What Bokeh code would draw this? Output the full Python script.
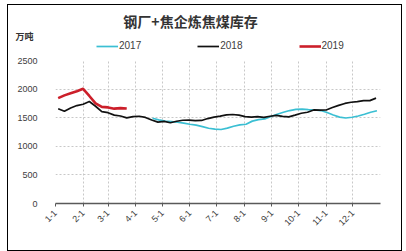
import math
import pandas as pd
from bokeh.plotting import figure
from bokeh.layouts import column
from bokeh.models import FixedTicker, Label, Legend, LegendItem, Range1d
from bokeh.embed import file_html
from bokeh.resources import INLINE

title_text = "钢厂+焦企炼焦煤库存"
unit_text = "万吨"
month_labels = ["1-1", "2-1", "3-1", "4-1", "5-1", "6-1", "7-1", "8-1", "9-1", "10-1", "11-1", "12-1"]
y_ticks = [0, 500, 1000, 1500, 2000, 2500]
series_names = ["2017", "2018", "2019"]

v2017 = [1490, 1462, 1440, 1430, 1420, 1405, 1385, 1370, 1345, 1315, 1300, 1294,
         1318, 1350, 1375, 1385, 1440, 1465, 1478, 1520, 1560, 1595, 1625, 1645,
         1650, 1640, 1635, 1625, 1590, 1548, 1510, 1495, 1508, 1530, 1560, 1595, 1622]
start2017 = "2017-04-20"

v2018 = [1656, 1612, 1670, 1712, 1735, 1784, 1700, 1605, 1588, 1545, 1530, 1496,
         1520, 1525, 1505, 1460, 1423, 1435, 1412, 1438, 1455, 1458, 1450, 1452,
         1485, 1511, 1528, 1548, 1556, 1545, 1520, 1511, 1518, 1505, 1525, 1540,
         1522, 1515, 1545, 1578, 1595, 1636, 1632, 1635, 1678, 1716, 1749, 1770,
         1782, 1800, 1798, 1842]
start2018 = "2018-01-04"

v2019 = [1842, 1890, 1928, 1964, 2005, 1880, 1750, 1690, 1680, 1658, 1668, 1660]
start2019 = "2019-01-04"

colors = ["#3BBFD3", "#111111", "#CC1F2A"]
widths = [1.7, 1.7, 2.6]


def day_offsets(start, n):
    d = pd.date_range(start, periods=n, freq="7D")
    return list(d.dayofyear - 1)


x2017 = day_offsets(start2017, len(v2017))
x2018 = day_offsets(start2018, len(v2018))
x2019 = day_offsets(start2019, len(v2019))
month_days = list(pd.date_range("2018-01-01", periods=12, freq="MS").dayofyear - 1)

# ---- header figure (title, unit, legend) ----
top = figure(width=393, height=50, output_backend="svg", toolbar_location=None,
             x_range=Range1d(0, 393), y_range=Range1d(0, 50),
             min_border=0, min_border_left=0, min_border_right=0,
             min_border_top=0, min_border_bottom=0, frame_align=False)
top.axis.visible = False
top.grid.visible = False
top.outline_line_color = None
top.background_fill_color = "white"
top.border_fill_color = "white"

# legend handles: invisible lines outside the visible range
handles = [top.line([-10, -10], [-10, -10], line_color=c, line_width=w) for c, w in zip(colors, widths)]
legend = Legend(items=[LegendItem(label=n, renderers=[h]) for n, h in zip(series_names, handles)],
                orientation="horizontal", location=(88, 4), padding=0, margin=0,
                spacing=56, glyph_width=22, glyph_height=10, label_height=10,
                label_standoff=1, label_text_font="Liberation Sans",
                label_text_font_size="10px", label_text_color="#404040",
                border_line_alpha=0, background_fill_alpha=0)
top.add_layout(legend, "center")
top.add_layout(Label(x=182, y=35, x_units="screen", y_units="screen", text=title_text,
                     text_align="center", text_baseline="middle", text_font="Noto Sans CJK SC",
                     text_font_style="bold", text_font_size="14px", text_color="#333333"))
top.add_layout(Label(x=7, y=19, x_units="screen", y_units="screen", text=unit_text,
                     text_align="left", text_baseline="middle", text_font="Noto Sans CJK SC",
                     text_font_style="bold", text_font_size="9px", text_color="#333333"))

# ---- main chart ----
p = figure(width=393, height=195, output_backend="svg", toolbar_location=None,
           x_range=Range1d(0, 365), y_range=Range1d(0, 2500), frame_align=False,
           min_border_left=47, min_border_right=21, min_border_top=5, min_border_bottom=47)
p.outline_line_color = None
p.background_fill_color = "white"
p.border_fill_color = "white"

p.line(x2017, v2017, line_color=colors[0], line_width=widths[0])
p.line(x2018, v2018, line_color=colors[1], line_width=widths[1])
p.line(x2019, v2019, line_color=colors[2], line_width=widths[2])

p.xaxis.ticker = FixedTicker(ticks=month_days)
p.xaxis.major_label_overrides = {int(d): lab for d, lab in zip(month_days, month_labels)}
p.xaxis.major_label_orientation = math.pi / 4
p.xaxis.axis_line_color = "#595959"
p.xaxis.axis_line_width = 1.5
p.xaxis.major_tick_line_color = "#595959"
p.xaxis.major_tick_in = 0
p.xaxis.major_tick_out = 3
p.xaxis.minor_tick_line_color = None
p.xaxis.major_label_text_font = "Liberation Sans"
p.xaxis.major_label_text_font_size = "9px"
p.xaxis.major_label_text_color = "#404040"
p.xaxis.major_label_standoff = 5

p.yaxis.ticker = FixedTicker(ticks=y_ticks)
p.yaxis.axis_line_color = None
p.yaxis.major_tick_line_color = None
p.yaxis.minor_tick_line_color = None
p.yaxis.major_label_text_font = "Liberation Sans"
p.yaxis.major_label_text_font_size = "9px"
p.yaxis.major_label_text_color = "#404040"
p.yaxis.major_label_standoff = 12

p.xgrid.grid_line_color = "#c8c8c8"
p.xgrid.grid_line_dash = "2 2"
p.ygrid.grid_line_color = "#c8c8c8"
p.ygrid.grid_line_dash = "2 2"

layout = column(top, p, margin=(5, 5, 1, 8), spacing=0,
                styles={"outline": "1px solid #000000", "outline-offset": "0px"})

open("out.html", "w").write(file_html(layout, INLINE))
